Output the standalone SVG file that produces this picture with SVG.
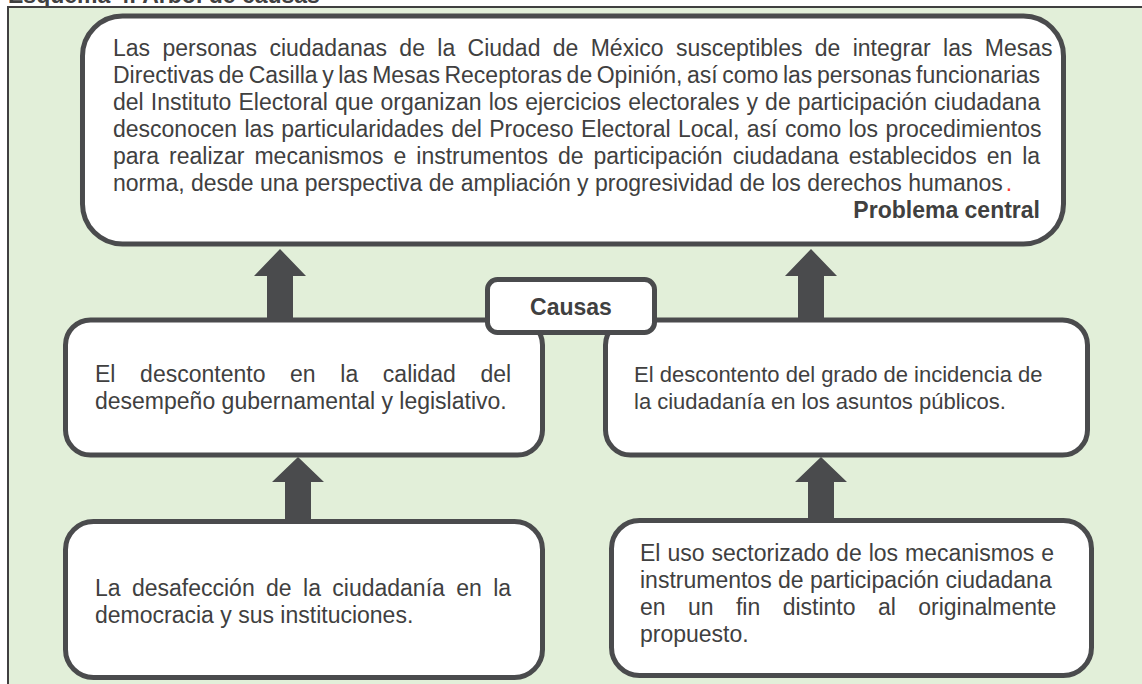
<svg xmlns="http://www.w3.org/2000/svg" width="1142" height="684" viewBox="0 0 1142 684">
<style>
.box{fill:#ffffff;stroke:#4a4b4d;stroke-width:5}
.t{font-family:"Liberation Sans",Arial,sans-serif;font-size:23px;fill:#404040}
.s{font-size:22px}
.b{font-weight:bold}
.arr{fill:#4a4b4d}
</style>
<rect x="0" y="0" width="1142" height="684" fill="#ffffff"/>
<text class="t b" x="8" y="3">Esquema 4. Árbol de causas</text>
<rect x="8" y="7" width="1134" height="677" fill="#e2efd9"/>
<path d="M8 684 V7 H1142" fill="none" stroke="#404040" stroke-width="2"/>

<g id="problema">
<rect class="box" x="82.5" y="16" width="981" height="228" rx="40"/>
<text class="t" x="113" y="56" word-spacing="5.95">Las personas ciudadanas de la Ciudad de México susceptibles de integrar las Mesas</text>
<text class="t" x="113" y="83" word-spacing="-1.85">Directivas de Casilla y las Mesas Receptoras de Opinión, así como las personas funcionarias</text>
<text class="t" x="113" y="110" word-spacing="0.72">del Instituto Electoral que organizan los ejercicios electorales y de participación ciudadana</text>
<text class="t" x="113" y="137" word-spacing="1.05">desconocen las particularidades del Proceso Electoral Local, así como los procedimientos</text>
<text class="t" x="113" y="164" word-spacing="3.6">para realizar mecanismos e instrumentos de participación ciudadana establecidos en la</text>
<text class="t" x="113" y="191">norma, desde una perspectiva de ampliación y progresividad de los derechos humanos<tspan dx="3" fill="#ff3b30">.</tspan></text>
<text class="t b" x="1040" y="218" text-anchor="end">Problema central</text>
</g>

<g id="causa1">
<rect class="box" x="65.5" y="320" width="477" height="135" rx="25"/>
<text class="t" x="95" y="382" word-spacing="18.26">El descontento en la calidad del</text>
<text class="t" x="95" y="409">desempeño gubernamental y legislativo.</text>
</g>

<g id="causa2">
<rect class="box" x="605.5" y="320" width="482" height="135" rx="25"/>
<text class="t s" x="634" y="382">El descontento del grado de incidencia de</text>
<text class="t s" x="634" y="409">la ciudadanía en los asuntos públicos.</text>
</g>

<g id="causa3">
<rect class="box" x="65.5" y="521.5" width="477" height="156" rx="28"/>
<text class="t" x="95" y="596" word-spacing="4.98">La desafección de la ciudadanía en la</text>
<text class="t" x="95" y="623">democracia y sus instituciones.</text>
</g>

<g id="causa4">
<rect class="box" x="611.5" y="520.5" width="480" height="155" rx="28"/>
<text class="t" x="640" y="561" word-spacing="0.6">El uso sectorizado de los mecanismos e</text>
<text class="t" x="640" y="588">instrumentos de participación ciudadana</text>
<text class="t" x="640" y="615" word-spacing="16">en un fin distinto al originalmente</text>
<text class="t" x="640" y="642">propuesto.</text>
</g>

<g id="connectors">
<polygon class="arr" points="280,249 306,276 293,276 293,318 267,318 267,276 254,276"/>
<polygon class="arr" points="811,249 837,276 824,276 824,318 798,318 798,276 785,276"/>
<polygon class="arr" points="298,457 324,482 311,482 311,519 285,519 285,482 272,482"/>
<polygon class="arr" points="821,457 847,482 834,482 834,518 808,518 808,482 795,482"/>
</g>

<g id="causas">
<rect class="box" x="487.5" y="279.5" width="167" height="53" rx="10"/>
<text class="t b" x="571" y="315" text-anchor="middle">Causas</text>
</g>
</svg>
